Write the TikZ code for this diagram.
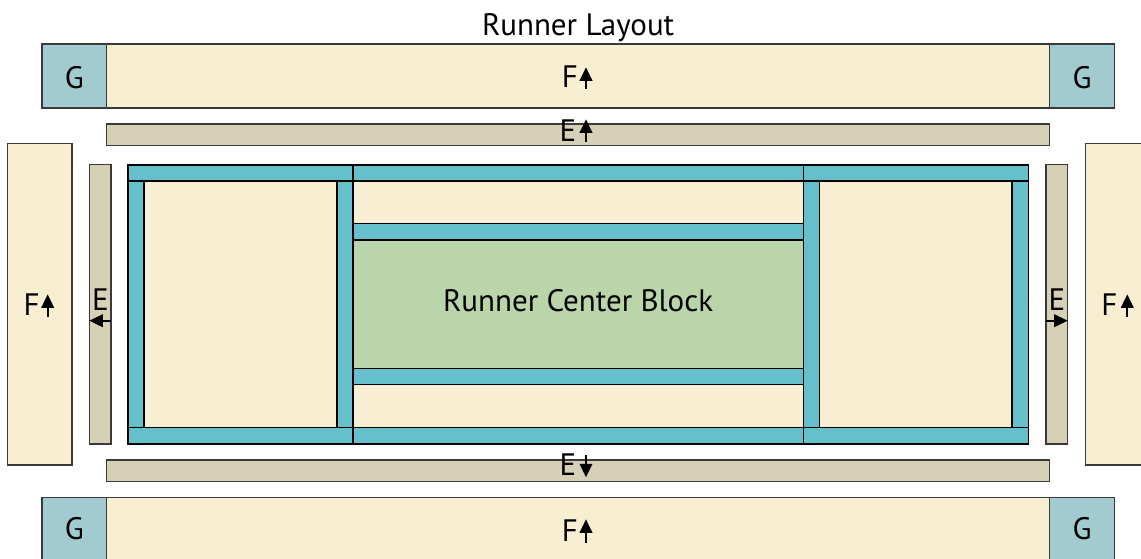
\documentclass[tikz,border=0pt]{standalone}
\usepackage{fontspec}
\setmainfont{PT Sans}
\usetikzlibrary{arrows.meta,calc}
\definecolor{gcol}{HTML}{A2CBCF}
\definecolor{fcol}{HTML}{F8EFD2}
\definecolor{ecol}{HTML}{D6D0B7}
\definecolor{tcol}{HTML}{66C0CC}
\definecolor{bcol}{HTML}{BBD5AA}
\definecolor{edgecol}{HTML}{3A3A3A}
\newcommand\rbox[7]{\node[#2,anchor=north west,minimum width={(#5-#3)*1pt},minimum height={(#6-#4)*1pt}] (#1) at (#3,#4) {#7};}
\begin{document}
\begin{tikzpicture}[x=1pt,y=-1pt,
  piece/.style={line width=1.2pt,inner sep=0pt,outer sep=0pt,font=\fontsize{31}{36}\selectfont},
  outerp/.style={piece,draw=edgecol},
  innerp/.style={piece,draw=black,line width=1.6pt},
  gpiece/.style={outerp,fill=gcol},
  fpiece/.style={outerp,fill=fcol},
  epiece/.style={outerp,fill=ecol},
  tband/.style={innerp,fill=tcol},
  cream/.style={innerp,fill=fcol},
  green/.style={innerp,fill=bcol},
  lbl/.style={inner sep=0pt,outer sep=0pt,anchor=base,font=\fontsize{31}{36}\selectfont},
  arr/.style={line width=2pt,-{Triangle[length=13.5pt,width=12.5pt]}}]
\useasboundingbox (0,0) rectangle (1141,558);
\clip (0,0) rectangle (1141,558);
% title
\node[lbl] (title) at (578.2,35) {Runner Layout};
% top row
\rbox{gTL}{gpiece}{42}{44}{106.7}{108}{}
\rbox{fT}{fpiece}{106.7}{44}{1049.7}{108}{}
\rbox{gTR}{gpiece}{1049.7}{44}{1114.3}{108}{}
\rbox{eT}{epiece}{106.7}{124}{1049.7}{145.7}{}
% sides
\rbox{fL}{fpiece}{7.3}{143.7}{72}{465}{}
\rbox{eL}{epiece}{89.3}{164.7}{111}{444}{}
\rbox{eR}{epiece}{1046}{164.7}{1067.7}{444}{}
\rbox{fR}{fpiece}{1085.7}{143.7}{1150}{465}{}
% bottom row
\rbox{eB}{epiece}{106.7}{460}{1049.7}{481.7}{}
\rbox{gBL}{gpiece}{42}{497.7}{106.7}{562}{}
\rbox{fB}{fpiece}{106.7}{497.7}{1049.7}{562}{}
\rbox{gBR}{gpiece}{1049.7}{497.7}{1114.3}{562}{}
% frame top and bottom bands
\rbox{bt1}{tband}{128}{164.7}{353}{181}{}
\rbox{bt2}{tband}{353}{164.7}{803.3}{181}{}
\rbox{bt3}{tband}{803.3}{164.7}{1028.3}{181}{}
\rbox{bb1}{tband}{128}{427.3}{353}{443.7}{}
\rbox{bb2}{tband}{353}{427.3}{803.3}{443.7}{}
\rbox{bb3}{tband}{803.3}{427.3}{1028.3}{443.7}{}
% columns
\rbox{cl1}{tband}{128}{181}{144}{427.3}{}
\rbox{pl}{cream}{144}{181}{336.7}{427.3}{}
\rbox{cl2}{tband}{336.7}{181}{353}{427.3}{}
\rbox{cr1}{tband}{803.3}{181}{819.3}{427.3}{}
\rbox{pr}{cream}{819.3}{181}{1011.7}{427.3}{}
\rbox{cr2}{tband}{1011.7}{181}{1028.3}{427.3}{}
% center column
\rbox{pc1}{cream}{353}{181}{803.3}{223.3}{}
\rbox{sc1}{tband}{353}{223.3}{803.3}{240}{}
\rbox{cb}{green}{353}{240}{803.3}{368.3}{}
\rbox{sc2}{tband}{353}{368.3}{803.3}{384.3}{}
\rbox{pc2}{cream}{353}{384.3}{803.3}{427.3}{}
\node[lbl] (cbt) at (578.2,311.7) {Runner Center Block};
% G labels
\node[lbl] (tgTL) at (74.3,88) {G};
\node[lbl] (tgTR) at (1082,88) {G};
\node[lbl] (tgBL) at (74.3,539) {G};
\node[lbl] (tgBR) at (1082,539) {G};
% F / E labels with arrows
\node[lbl] (tfT) at (570,87.7) {F};
\draw[arr] ($(tfT.base)+(16,1.6)$) -- ++(0,-22);
\node[lbl] (teT) at (568,141.7) {E};
\draw[arr] ($(teT.base)+(18,0.6)$) -- ++(0,-23);
\node[lbl] (teB) at (568,475.7) {E};
\draw[arr] ($(teB.base)+(18,-20.7)$) -- ++(0,22.3);
\node[lbl] (tfB) at (570,541) {F};
\draw[arr] ($(tfB.base)+(16,1.6)$) -- ++(0,-23.3);
\node[lbl] (tfL) at (31.7,315) {F};
\draw[arr] ($(tfL.base)+(16,1.7)$) -- ++(0,-22.4);
\node[lbl] (teL) at (100.5,310) {E};
\draw[arr] ($(teL.base)+(10.5,10.7)$) -- ++(-21.7,0);
\node[lbl] (teR) at (1057,310) {E};
\draw[arr] ($(teR.base)+(-11,10.7)$) -- ++(21.7,0);
\node[lbl] (tfR) at (1109.5,315) {F};
\draw[arr] ($(tfR.base)+(17.8,1.7)$) -- ++(0,-22.4);
\end{tikzpicture}
\end{document}
